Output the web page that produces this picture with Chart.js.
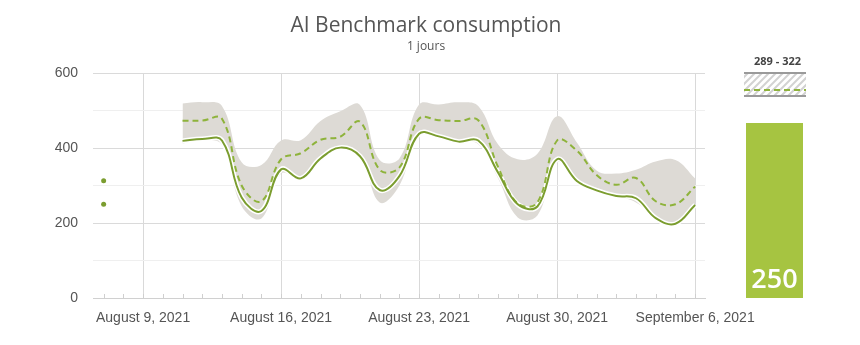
<!DOCTYPE html>
<html>
<head>
<meta charset="utf-8">
<script src="https://cdn.jsdelivr.net/npm/chart.js@4.4.1/dist/chart.umd.min.js"></script>
<style>
  html, body { margin: 0; padding: 0; background: #ffffff; }
  #wrap { position: relative; width: 860px; height: 345px; overflow: hidden; }
  #title { position: absolute; left: 0; width: 852px; top: 14px; text-align: center;
           font-family: 'Open Sans', sans-serif; font-size: 21px; line-height: 21px; color: #555555; }
  #subtitle { position: absolute; left: 0; width: 852px; top: 40px; text-align: center;
              font-family: 'Open Sans', sans-serif; font-size: 12px; line-height: 12px; color: #555555; }
  #main { position: absolute; left: 0; top: 0; }
  #gauge { position: absolute; left: 730px; top: 0; }
</style>
</head>
<body>
<div id="wrap">
  <canvas id="main" width="860" height="345"></canvas>
  <canvas id="gauge" width="90" height="345"></canvas>
  <div id="title">AI Benchmark consumption</div>
  <div id="subtitle">1 jours</div>
</div>
<script>
// ---------- data ----------
const dates = [
  '2021-08-07','2021-08-08','2021-08-09','2021-08-10','2021-08-11','2021-08-12','2021-08-13',
  '2021-08-14','2021-08-15','2021-08-16','2021-08-17','2021-08-18','2021-08-19','2021-08-20',
  '2021-08-21','2021-08-22','2021-08-23','2021-08-24','2021-08-25','2021-08-26','2021-08-27',
  '2021-08-28','2021-08-29','2021-08-30','2021-08-31','2021-09-01','2021-09-02','2021-09-03',
  '2021-09-04','2021-09-05','2021-09-06'
];
const actual = [250, null, null, null, 419, 424, 420, 268, 232, 343, 319, 372, 401, 378,
  288, 325, 438, 431, 417, 420, 335, 250, 244, 370, 312, 287, 272, 266, 213, 198, 248];
const expected = [313, null, null, null, 473, 473, 478, 300, 258, 370, 386, 422, 430, 470,
  342, 348, 478, 474, 472, 474, 350, 252, 255, 420, 393, 328, 302, 320, 258, 250, 297];
const rangeUpper = [null, null, null, null, 519, 522, 512, 362, 355, 420, 421, 472, 498, 515,
  368, 372, 516, 516, 522, 512, 410, 370, 385, 485, 415, 340, 332, 342, 364, 368, 319];
const rangeLower = [null, null, null, null, 412, 421, 408, 245, 212, 332, 318, 370, 400, 380,
  255, 300, 438, 426, 415, 410, 320, 215, 220, 362, 310, 283, 272, 255, 215, 200, 248];
const yTicks = [0, 200, 400, 600];
const gaugeValue = [250];
const gaugeRange = [289, 322];
const gaugeExpected = [297];

// ---------- helpers ----------
const DAY = 86400000;
const base = Date.UTC(2021, 7, 1);
const dayNum = d => (Date.parse(d + 'T00:00:00Z') - base) / DAY + 1; // Aug 1 = 1
const xs = dates.map(dayNum);
const pts = arr => arr.map((v, i) => ({ x: xs[i], y: v }));
const fmtDay = v => new Date(base + (v - 1) * DAY).toLocaleDateString('en-US',
  { month: 'long', day: 'numeric', year: 'numeric', timeZone: 'UTC' });
const isWeek = v => Math.abs(((v - 9) % 7 + 7) % 7) < 1e-6;

const isolated = ctx => {
  const d = ctx.dataset.data, i = ctx.dataIndex;
  if (!d[i] || d[i].y == null) return 0;
  const prev = i > 0 ? d[i - 1].y : null, next = i < d.length - 1 ? d[i + 1].y : null;
  return (prev == null && next == null) ? 2.5 : 0;
};

const GREEN = '#7b9d2f';
const GREEN_D = '#8eb33b';
const BAND = 'rgb(221,218,213)';

const innerTicks = {
  id: 'innerTicks',
  beforeDatasetsDraw(chart) {
    const sx = chart.scales.x, area = chart.chartArea, c = chart.ctx;
    c.save();
    c.strokeStyle = '#cfcfcf';
    c.lineWidth = 1;
    sx.ticks.forEach(t => {
      const px = Math.round(sx.getPixelForValue(t.value)) + 0.5;
      c.beginPath();
      c.moveTo(px, area.bottom - 4);
      c.lineTo(px, area.bottom);
      c.stroke();
    });
    c.restore();
  }
};

Chart.defaults.font.family = "'Liberation Sans', Arial, sans-serif";
Chart.defaults.font.size = 14;
Chart.defaults.color = '#555555';

new Chart(document.getElementById('main'), {
  type: 'line',
  data: {
    datasets: [
      { data: pts(rangeUpper), fill: '+1', backgroundColor: BAND, borderWidth: 0,
        pointRadius: 0, tension: 0.4, order: 10 },
      { data: pts(rangeLower), fill: false, borderWidth: 0, pointRadius: 0, tension: 0.4, order: 11 },
      { data: pts(actual), borderColor: '#ffffff', borderWidth: 5, pointRadius: 0,
        fill: false, tension: 0.4, order: 3 },
      { data: pts(expected), borderColor: GREEN_D, borderWidth: 2, borderDash: [6, 4],
        pointRadius: isolated, pointBackgroundColor: GREEN, pointBorderWidth: 0,
        fill: false, tension: 0.4, order: 2 },
      { data: pts(actual), borderColor: GREEN, borderWidth: 2,
        pointRadius: isolated, pointBackgroundColor: GREEN, pointBorderWidth: 0,
        fill: false, tension: 0.4, order: 1 }
    ]
  },
  options: {
    responsive: false,
    animation: false,
    events: [],
    layout: { padding: { left: 0, top: 73, right: 155, bottom: 0 } },
    plugins: { legend: { display: false }, tooltip: { enabled: false } },
    scales: {
      x: {
        type: 'linear',
        min: 6.46, max: 37.5,
        afterFit: s => { s.height = 47; },
        afterBuildTicks: s => {
          const t = [];
          for (let v = Math.ceil(s.min); v <= Math.floor(s.max); v++) t.push({ value: v });
          s.ticks = t;
        },
        ticks: {
          stepSize: 1, autoSkip: false, maxRotation: 0, padding: 12,
          callback: v => isWeek(v) ? fmtDay(v) : ''
        },
        grid: {
          drawTicks: false,
          color: c => (c.tick && isWeek(c.tick.value)) ? '#d9d9d9' : 'rgba(0,0,0,0)'
        },
        border: { display: true, color: '#d0d0d0' }
      },
      y: {
        min: 0, max: 600,
        afterFit: s => { s.width = 93; },
        ticks: {
          stepSize: 100, padding: 15,
          callback: v => yTicks.includes(v) ? String(v) : ''
        },
        grid: {
          drawTicks: false,
          color: c => (c.tick && yTicks.includes(c.tick.value)) ? '#dadada' : '#efefef'
        },
        border: { display: false }
      }
    }
  },
  plugins: [innerTicks]
});

// ---------- gauge ----------
const gaugeDecor = {
  id: 'gaugeDecor',
  afterDatasetsDraw(chart) {
    const c = chart.ctx, ys = chart.scales.y, a = chart.chartArea;
    const meta = chart.getDatasetMeta(0).data[0];
    const yHi = Math.round(ys.getPixelForValue(gaugeRange[1]));
    const yLo = Math.round(ys.getPixelForValue(gaugeRange[0]));
    const yEx = Math.round(ys.getPixelForValue(gaugeExpected[0]));
    const L = a.left - 2, R = a.right + 3;
    c.save();
    // hatch
    c.save();
    c.beginPath(); c.rect(L, yHi, R - L, yLo - yHi); c.clip();
    c.strokeStyle = '#d2d2d2'; c.lineWidth = 2;
    for (let x = L - 40; x < R + 40; x += 7) {
      c.beginPath(); c.moveTo(x, yLo); c.lineTo(x + (yLo - yHi), yHi); c.stroke();
    }
    c.restore();
    c.strokeStyle = '#9a9a9a'; c.lineWidth = 2;
    c.beginPath(); c.moveTo(L, yHi); c.lineTo(R, yHi); c.stroke();
    c.beginPath(); c.moveTo(L, yLo); c.lineTo(R, yLo); c.stroke();
    c.strokeStyle = GREEN_D; c.setLineDash([6, 4]);
    c.beginPath(); c.moveTo(L, yEx); c.lineTo(R, yEx); c.stroke();
    c.setLineDash([]);
    // range label
    c.fillStyle = '#444444';
    c.font = "bold 11px 'Open Sans', sans-serif";
    c.textAlign = 'center'; c.textBaseline = 'alphabetic';
    c.fillText(gaugeRange[0] + ' - ' + gaugeRange[1], (a.left + a.right) / 2 + 3, yHi - 8);
    // value label
    c.fillStyle = '#ffffff';
    c.font = "600 27px 'Open Sans', sans-serif";
    c.fillText(String(gaugeValue[0]), meta.x, ys.getPixelForValue(0) - 10);
    c.restore();
  }
};

new Chart(document.getElementById('gauge'), {
  type: 'bar',
  data: {
    labels: [''],
    datasets: [{ data: gaugeValue, backgroundColor: '#a6c441', borderWidth: 0,
      barPercentage: 1, categoryPercentage: 1 }]
  },
  options: {
    responsive: false,
    animation: false,
    events: [],
    layout: { padding: { left: 16, right: 17, top: 73, bottom: 47 } },
    plugins: { legend: { display: false }, tooltip: { enabled: false } },
    scales: {
      x: { display: false },
      y: { display: false, min: 0, max: gaugeRange[1] }
    }
  },
  plugins: [gaugeDecor]
});
</script>
</body>
</html>
